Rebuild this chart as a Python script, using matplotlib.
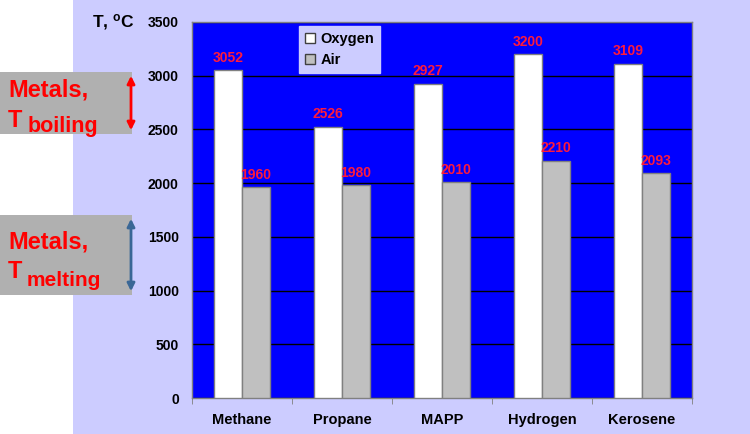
import matplotlib
matplotlib.use('Agg')
import matplotlib.pyplot as plt
import matplotlib.patches as patches
import numpy as np

# Flame temperatures of fuels burned in oxygen and in air
fuels = ['Methane', 'Propane', 'MAPP', 'Hydrogen', 'Kerosene']
oxygen = [3052, 2526, 2927, 3200, 3109]
air = [1960, 1980, 2010, 2210, 2093]
series_names = ['Oxygen', 'Air']
y_ticks = [0, 500, 1000, 1500, 2000, 2500, 3000, 3500]

plt.rcParams['font.family'] = ['Liberation Sans', 'DejaVu Sans']
plt.rcParams['mathtext.fontset'] = 'custom'
plt.rcParams['mathtext.rm'] = 'Liberation Sans'
plt.rcParams['mathtext.bf'] = 'Liberation Sans:bold'

W, H = 750, 434
fig = plt.figure(figsize=(W / 100, H / 100), dpi=100)
fig.patch.set_facecolor('white')


def fx(px):
    return px / W


def fy(py):
    # pixel measured from top -> figure fraction
    return 1 - py / H


# Lavender slide background
fig.add_artist(patches.Rectangle((fx(73), 0), 1 - fx(73), 1, transform=fig.transFigure,
                                 facecolor='#ccccff', edgecolor='none', zorder=0))

# Plot area
ax = fig.add_axes([fx(192), fy(398), fx(500), 376 / H])
ax.set_facecolor('#0000ff')

x = np.arange(len(fuels))
width = 0.28
bars_o = ax.bar(x - width / 2, oxygen, width, color='white', edgecolor='#808080',
                linewidth=1, label=series_names[0], zorder=3)
bars_a = ax.bar(x + width / 2, air, width, color='#c0c0c0', edgecolor='#808080',
                linewidth=1, label=series_names[1], zorder=3)

for bars in (bars_o, bars_a):
    for b in bars:
        ax.annotate(str(int(b.get_height())), (b.get_x() + b.get_width() / 2, b.get_height()),
                    xytext=(0, 4), textcoords='offset points', ha='center', va='bottom',
                    fontsize=10, fontweight='bold', color='#ff1a3c', zorder=4)

ax.set_ylim(0, 3500)
ax.set_xlim(-0.5, len(fuels) - 0.5)
ax.set_yticks(y_ticks)
ax.set_yticklabels([str(t) for t in y_ticks], fontsize=10, fontweight='bold')
ax.tick_params(axis='y', length=0, pad=9.5)
ax.set_xticks(x)
ax.set_xticklabels(fuels, fontsize=10.5, fontweight='bold')
ax.set_xticks(np.arange(len(fuels) + 1) - 0.5, minor=True)
ax.tick_params(axis='x', which='major', length=0, pad=11)
ax.tick_params(axis='x', which='minor', length=4, color='#808080')
ax.grid(axis='y', color='black', linewidth=1, zorder=1)
ax.set_axisbelow(True)
for s in ax.spines.values():
    s.set_color('#808080')
    s.set_linewidth(1)

leg = ax.legend(loc='upper left', bbox_to_anchor=(0.205, 1.0),
                prop={'weight': 'bold', 'size': 10.5}, frameon=True, fancybox=False,
                facecolor='#ccccff', edgecolor='#ccccff', framealpha=1,
                handlelength=0.7, handleheight=0.7, handletextpad=0.4,
                borderpad=0.4, labelspacing=0.45, borderaxespad=0.3)
for h in leg.legend_handles:
    h.set_edgecolor('#404040')

# Axis title
fig.text(fx(92), fy(22), r'T, $\mathbf{^o}$C', fontsize=12.5, fontweight='bold',
         ha='left', va='center', color='black')

# Metal temperature boxes with arrows
boxes = [
    (72, 134, '#ff0000'),
    (215, 295, '#3a6796'),
]
for top, bottom, arrow_color in boxes:
    fig.add_artist(patches.Rectangle((0, fy(bottom)), fx(132), fy(top) - fy(bottom),
                                     transform=fig.transFigure, facecolor='#b0b0b0',
                                     edgecolor='none', zorder=2))
    fig.add_artist(patches.FancyArrowPatch((fx(131), fy(top + 1)), (fx(131), fy(bottom - 1)),
                                           transform=fig.transFigure, arrowstyle='<|-|>',
                                           mutation_scale=11, color=arrow_color,
                                           linewidth=2, zorder=3))

fig.text(fx(8), fy(97), 'Metals,', fontsize=17, fontweight='bold', color='#ff0000',
         ha='left', va='baseline', zorder=4)
fig.text(fx(8), fy(127), 'T', fontsize=17, fontweight='bold', color='#ff0000',
         ha='left', va='baseline', zorder=4)
fig.text(fx(28), fy(132), 'boiling', fontsize=15.5, fontweight='bold', color='#ff0000',
         ha='left', va='baseline', zorder=4)

fig.text(fx(8), fy(248), 'Metals,', fontsize=17, fontweight='bold', color='#ff0000',
         ha='left', va='baseline', zorder=4)
fig.text(fx(8), fy(278), 'T', fontsize=17, fontweight='bold', color='#ff0000',
         ha='left', va='baseline', zorder=4)
fig.text(fx(27), fy(286), 'melting', fontsize=15, fontweight='bold', color='#ff0000',
         ha='left', va='baseline', zorder=4)

fig.savefig('out.png', dpi=100)
